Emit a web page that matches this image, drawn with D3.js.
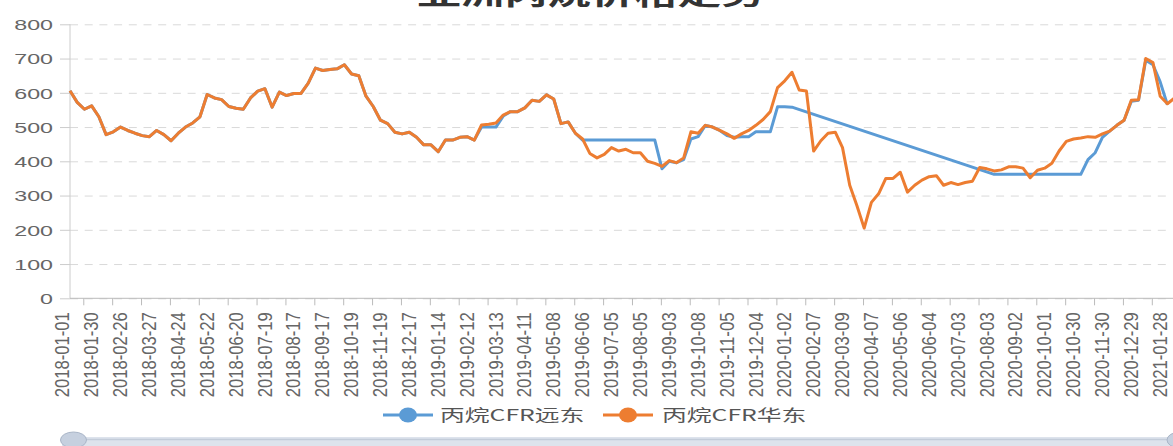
<!DOCTYPE html>
<html>
<head>
<meta charset="utf-8">
<script src="https://cdn.jsdelivr.net/npm/d3@7"></script>
<style>
  body { margin: 0; background: #fff; }
  svg { display: block; font-family: "Microsoft YaHei", "Noto Sans CJK SC", sans-serif; }
</style>
</head>
<body>
<svg id="chart" width="1173" height="446"></svg>
<script>
var chartTitle = "亚洲丙烷价格走势";
var seriesNames = ["丙烷CFR远东", "丙烷CFR华东"];
var seriesColors = ["#5b9bd5", "#ed7d31"];
var yTicks = [0, 100, 200, 300, 400, 500, 600, 700, 800];

var tickLabels = [
  "2018-01-01", "2018-01-30", "2018-02-26", "2018-03-27", "2018-04-24", "2018-05-22",
  "2018-06-20", "2018-07-19", "2018-08-17", "2018-09-17", "2018-10-19", "2018-11-19",
  "2018-12-17", "2019-01-14", "2019-02-12", "2019-03-13", "2019-04-11", "2019-05-08",
  "2019-06-06", "2019-07-05", "2019-08-05", "2019-09-03", "2019-10-08", "2019-11-05",
  "2019-12-04", "2020-01-02", "2020-02-07", "2020-03-09", "2020-04-07", "2020-05-06",
  "2020-06-04", "2020-07-03", "2020-08-03", "2020-09-02", "2020-10-01", "2020-10-30",
  "2020-11-30", "2020-12-29", "2021-01-28"
];

// 4 readings per label interval (about one a week)
// null = no quote, the line is drawn straight across the gap
var farEast = [
  606, 572, 552, 562, 530, 478, 486, 500, 490, 482, 475, 472, 490, 478, 460, 482,
  500, 512, 530, 595, 585, 580, 560, 555, 552, 585, 605, 612, 558, 602, 592, 598,
  598, 628, 672, 665, 668, 670, 682, 655, 650, 590, 560, 520, 510, 485, 480, 485,
  470, 448, 448, 428, 462, 462, 470, 472, 462, 500, 500, 500, 532, 545, 545, 556,
  578, 575, 594, 582, 510, 515, 482, 462, 462, 462, 462, 462, 462, 462, 462, 462,
  462, 462, 378, 400, 396, 405, 465, 472, 505, 500, 490, 475, 470, 472, 472, 486,
  486, 486, 559, 559, 558, null, null, null, null, null, null, null, null, null,
  null, null, null, null, null, null, null, null, null, null, null, null, null, null,
  null, null, null, null, 362, 362, 362, 362, 362, 362, 362, 362, 362, 362, 362, 362,
  362, 405, 425, 470, 488, 505, 520, 575, 578, 695, 682, 632, 565, null
];

var eastChina = [
  606, 572, 552, 562, 530, 478, 486, 500, 490, 482, 475, 472, 490, 478, 460, 482,
  500, 512, 530, 595, 585, 580, 560, 555, 552, 585, 605, 612, 558, 602, 592, 598,
  598, 628, 672, 665, 668, 670, 682, 655, 650, 590, 560, 520, 510, 485, 480, 485,
  470, 448, 448, 428, 462, 462, 470, 472, 462, 506, 508, 512, 535, 545, 545, 556,
  578, 575, 594, 582, 510, 515, 482, 465, 423, 410, 420, 440, 430, 435, 425, 425,
  400, 394, 385, 402, 396, 410, 486, 482, 505, 500, 490, 480, 467, 480, 490, 505,
  522, 545, 615, 635, 660, 608, 605, 430, 460, 482, 485, 440, 330, 270, 205, 280,
  305, 350, 350, 368, 310, 330, 345, 355, 358, 330, 338, 332, 338, 342, 382, 378,
  372, 375, 384, 384, 380, 352, 374, 380, 394, 430, 458, 465, 468, 472, 470, 480,
  488, 505, 520, 578, 580, 700, 688, 590, 568, 585
];

(function() {
    var width = 1173, height = 446
    var sx = 1.55 //the picture is stretched sideways, so text is too
    var perLabel = 4
    var left = 70, right = 1167.4, top = 24.3, bottom = 298.3

    var x = d3.scaleLinear()
        .domain([0, tickLabels.length - 1])
        .range([left, right]);

    var y = d3.scaleLinear()
        .domain([0, 800])
        .range([bottom, top]);

    var svg = d3.select("#chart")

    //title, only its lower half is in the picture
    svg.append("text")
        .attr("transform", `translate(591,5) scale(${sx},1)`)
        .attr("text-anchor", "middle")
        .attr("font-size", 28)
        .attr("font-weight", "bold")
        .attr("fill", "#333")
        .text(chartTitle);

    //dashed grid
    svg.append("g")
        .attr("transform", `translate(${left},0)`)
        .call(d3.axisLeft(y).tickValues(yTicks).tickSize(-(right - left)).tickFormat(""))
        .call((g) => g.select(".domain").remove())
        .call((g) => g.selectAll(".tick line")
            .attr("stroke", "#d9d9d9")
            .attr("stroke-dasharray", "8,6.7"));

    //y axis with labels
    var yAxis = svg.append("g")
        .attr("transform", `translate(${left},0)`)
        .call(d3.axisLeft(y).tickValues(yTicks).tickSize(10))
        .call((g) => g.select(".domain").remove());
    yAxis.selectAll(".tick line").attr("stroke", "#ccc");
    yAxis.selectAll(".tick text")
        .attr("x", 0)
        .attr("dy", "0.35em")
        .attr("transform", `translate(-17,0) scale(${sx},1)`)
        .attr("font-size", 15)
        .attr("fill", "#666");

    svg.append("line")
        .attr("x1", left).attr("x2", left)
        .attr("y1", top).attr("y2", bottom)
        .attr("stroke", "#ccc");

    //x axis: labels on the categories, ticks sit between them
    var xLabels = svg.append("g")
        .attr("transform", `translate(0,${bottom})`)
        .call(d3.axisBottom(x)
            .tickValues(d3.range(tickLabels.length))
            .tickFormat((i) => tickLabels[i])
            .tickSize(0))
        .call((g) => g.select(".domain").remove());
    xLabels.selectAll(".tick text")
        .attr("y", 0)
        .attr("dy", null)
        .attr("text-anchor", "end")
        .attr("dominant-baseline", "central")
        .attr("transform", `translate(-7.6,14) scale(${sx},1) rotate(-90)`)
        .attr("font-size", 13)
        .attr("textLength", 85)
        .attr("lengthAdjust", "spacingAndGlyphs")
        .attr("fill", "#666");

    svg.append("g")
        .attr("transform", `translate(0,${bottom})`)
        .call(d3.axisBottom(x)
            .tickValues(d3.range(tickLabels.length - 1).map((i) => i + 0.46))
            .tickSize(7)
            .tickFormat(""))
        .call((g) => g.select(".domain").remove())
        .call((g) => g.selectAll(".tick line").attr("stroke", "#bbb"));

    svg.append("line")
        .attr("x1", left).attr("x2", width)
        .attr("y1", bottom).attr("y2", bottom)
        .attr("stroke", "#bbb");

    //the two price lines, orange on top
    var line = d3.line()
        .x((d) => x(d.k / perLabel))
        .y((d) => y(d.v));

    [farEast, eastChina].forEach((values, s) => {
        var pts = values.map((v, k) => ({ k: k, v: v })).filter((d) => d.v != null)
        svg.append("path")
            .datum(pts)
            .attr("d", line)
            .attr("fill", "none")
            .attr("stroke", seriesColors[s])
            .attr("stroke-width", 3)
            .attr("stroke-linejoin", "round");
    });

    //legend
    var legendX = [383, 603]
    var legend = svg.append("g")
        .selectAll("g")
        .data(seriesNames)
        .join("g")
            .attr("transform", (d, i) => `translate(${legendX[i]},415)`);
    legend.append("line")
        .attr("x1", 0).attr("x2", 50)
        .attr("stroke", (d, i) => seriesColors[i])
        .attr("stroke-width", 3);
    legend.append("ellipse")
        .attr("cx", 25)
        .attr("rx", 9).attr("ry", 7.5)
        .attr("fill", (d, i) => seriesColors[i]);
    legend.append("text")
        .attr("transform", (d, i) => `translate(${i == 0 ? 57 : 59},0) scale(${sx},1)`)
        .attr("dy", "0.35em")
        .attr("font-size", 16)
        .attr("fill", "#555")
        .text((d) => d);

    //data zoom slider, cut off by the bottom edge
    svg.append("rect")
        .attr("x", 62).attr("y", 437)
        .attr("width", width - 62).attr("height", 14)
        .attr("fill", "#dde3ec");
    svg.append("line")
        .attr("x1", 86).attr("x2", width)
        .attr("y1", 439.5).attr("y2", 439.5)
        .attr("stroke", "#c3ccd9").attr("stroke-width", 1.5);
    [73.5, 1180].forEach((cx) => {
        svg.append("ellipse")
            .attr("cx", cx).attr("cy", 440)
            .attr("rx", 13).attr("ry", 8)
            .attr("fill", "#c6d0df")
            .attr("stroke", "#aab6c8");
    });
})();
</script>
</body>
</html>
